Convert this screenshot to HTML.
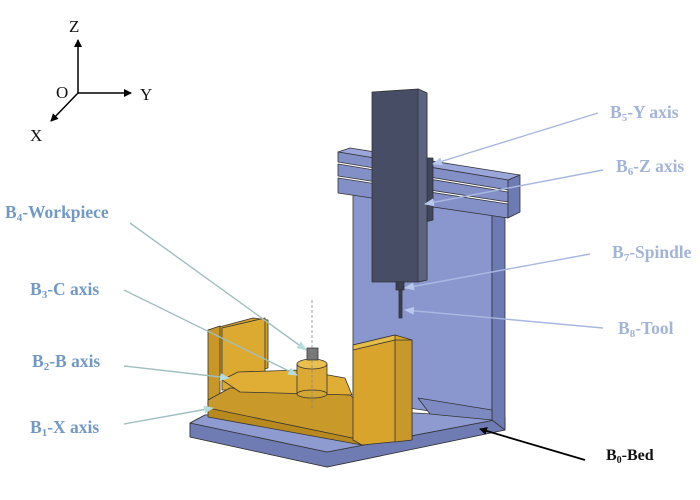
<!DOCTYPE html>
<html><head><meta charset="utf-8"><style>
html,body{margin:0;padding:0;background:#fff;}
svg{display:block}
.l{font-family:"Liberation Serif",serif;font-weight:bold;font-size:17.5px;fill:#7199c6}
.r{font-family:"Liberation Serif",serif;font-weight:bold;font-size:17.5px;fill:#a3b4da}
.ax{font-family:"Liberation Serif",serif;font-size:17px;fill:#111}
</style></head><body>
<svg width="700" height="500" viewBox="0 0 700 500" xmlns="http://www.w3.org/2000/svg">
<defs>
<marker id="ab" markerWidth="8" markerHeight="8" refX="7" refY="4" orient="auto" markerUnits="userSpaceOnUse"><path d="M0,0 L8,4 L0,8 z" fill="#000"/></marker>
<marker id="lb" markerWidth="10" markerHeight="8" refX="9" refY="4" orient="auto" markerUnits="userSpaceOnUse"><path d="M0,0 L10,4 L0,8 z" fill="#b8c8ea"/></marker>
<marker id="lg" markerWidth="10" markerHeight="8" refX="9" refY="4" orient="auto" markerUnits="userSpaceOnUse"><path d="M0,0 L10,4 L0,8 z" fill="#b8dcdc"/></marker>
</defs>
<g stroke="#000" stroke-width="1.5" fill="none">
<line x1="78" y1="93" x2="78" y2="40" marker-end="url(#ab)"/>
<line x1="78" y1="93" x2="131" y2="93" marker-end="url(#ab)"/>
<line x1="78" y1="93" x2="51" y2="121" marker-end="url(#ab)"/>
</g>
<text class="ax" x="69" y="32">Z</text>
<text class="ax" x="140" y="100">Y</text>
<text class="ax" x="56" y="98">O</text>
<text class="ax" x="30" y="141">X</text>

<g stroke="#333" stroke-width="0.8" stroke-linejoin="round">
<polygon points="190,423 205,415 505,418 505,430 327,467 190,437" fill="#7f8cc2"/>
<polygon points="190,423 327,452 505,418 505,430 327,467 190,437" fill="#6f7cb4"/>
<polygon points="190,423 205,415 360,410 505,418 327,452" fill="#8e9bd0"/>
<polygon points="353,195 492,210 492,420 353,400" fill="#8a97cf"/>
<polygon points="492,210 505,205 505,430 492,420" fill="#6d7ab3"/>
<polygon points="418,398 492,410 492,420 430,414" fill="#7d8ac2"/>
<polygon points="338,152 350,148 520,175 508,180" fill="#9aa6da"/>
<polygon points="338,152 508,180 508,190 338,162" fill="#8390c8"/>
<polygon points="338,164 508,192 508,202 338,176" fill="#8390c8"/>
<polygon points="338,178 508,204 508,218 338,193" fill="#8390c8"/>
<polygon points="508,180 520,175 520,212 508,218" fill="#6d7ab3"/>
<polygon points="425,158 433,158 433,220 425,222" fill="#3f4660"/>
<polygon points="372,92 418,89 427,93 427,280 418,282 372,282" fill="#474d64"/>
<polygon points="418,89 427,93 427,280 418,282" fill="#5c6380"/>
<rect x="396" y="282" width="8" height="8" fill="#3a3f52"/>
<rect x="399" y="290" width="3" height="28" fill="#3a3f52"/>
<polygon points="208,330 253,318 268,320 268,368 212,382" fill="#d4a028"/>
<polygon points="208,330 220,326 220,402 208,408" fill="#c89727"/>
<polygon points="222,328 265,318 265,372 240,390 222,390" fill="#dcaa30"/>
<polygon points="208,400 230,388 350,395 362,405 362,440 208,410" fill="#c99a2a"/>
<polygon points="222,380 238,372 300,370 345,378 352,395 240,392" fill="#e0ae34"/>
<polygon points="208,408 362,440 362,445 208,417" fill="#b8891f"/>
<polygon points="353,345 395,335 412,340 412,440 362,445 353,440" fill="#d8a42c"/>
<polygon points="353,345 395,335 395,340 353,350" fill="#e6bc48"/>
<polygon points="395,340 412,340 412,440 395,442" fill="#c8982a"/>
<rect x="297" y="364" width="30" height="30" fill="#dcaa34"/>
<ellipse cx="312" cy="394" rx="15" ry="4" fill="#d3a533"/>
<ellipse cx="312" cy="364" rx="15" ry="5" fill="#e9c050"/>
<rect x="307" y="348" width="11" height="12" fill="#777"/>
</g>
<line x1="312" y1="300" x2="312" y2="410" stroke="#888" stroke-width="0.8" stroke-dasharray="3,2"/>

<g stroke="#9fbfbf" stroke-width="1.4" fill="none">
<line x1="130" y1="223" x2="306" y2="350" marker-end="url(#lg)"/>
<line x1="124" y1="290" x2="297" y2="375" marker-end="url(#lg)"/>
<line x1="124" y1="366" x2="229" y2="378" marker-end="url(#lg)"/>
<line x1="124" y1="424" x2="213" y2="408" marker-end="url(#lg)"/>
</g>
<g stroke="#a8b8e0" stroke-width="1.4" fill="none">
<line x1="598" y1="113" x2="433" y2="164" marker-end="url(#lb)"/>
<line x1="603" y1="170" x2="425" y2="204" marker-end="url(#lb)"/>
<line x1="590" y1="254" x2="405" y2="288" marker-end="url(#lb)"/>
<line x1="603" y1="328" x2="405" y2="310" marker-end="url(#lb)"/>
</g>
<line x1="585" y1="460" x2="480" y2="429" stroke="#000" stroke-width="1.8" marker-end="url(#ab)"/>

<text class="l" x="5" y="218">B<tspan font-size="11" dy="3">4</tspan><tspan dy="-3">-Workpiece</tspan></text>
<text class="l" x="30" y="295">B<tspan font-size="11" dy="3">3</tspan><tspan dy="-3">-C axis</tspan></text>
<text class="l" x="32" y="367">B<tspan font-size="11" dy="3">2</tspan><tspan dy="-3">-B axis</tspan></text>
<text class="l" x="30" y="433">B<tspan font-size="11" dy="3">1</tspan><tspan dy="-3">-X axis</tspan></text>
<text class="r" x="610" y="118">B<tspan font-size="11" dy="3">5</tspan><tspan dy="-3">-Y axis</tspan></text>
<text class="r" x="616" y="172">B<tspan font-size="11" dy="3">6</tspan><tspan dy="-3">-Z axis</tspan></text>
<text class="r" x="612" y="258">B<tspan font-size="11" dy="3">7</tspan><tspan dy="-3">-Spindle</tspan></text>
<text class="r" x="618" y="334">B<tspan font-size="11" dy="3">8</tspan><tspan dy="-3">-Tool</tspan></text>
<text x="606" y="460" style="font-family:'Liberation Serif',serif;font-weight:bold;font-size:16px;fill:#111">B<tspan font-size="10" dy="3">0</tspan><tspan dy="-3">-Bed</tspan></text>
</svg>
</body></html>
